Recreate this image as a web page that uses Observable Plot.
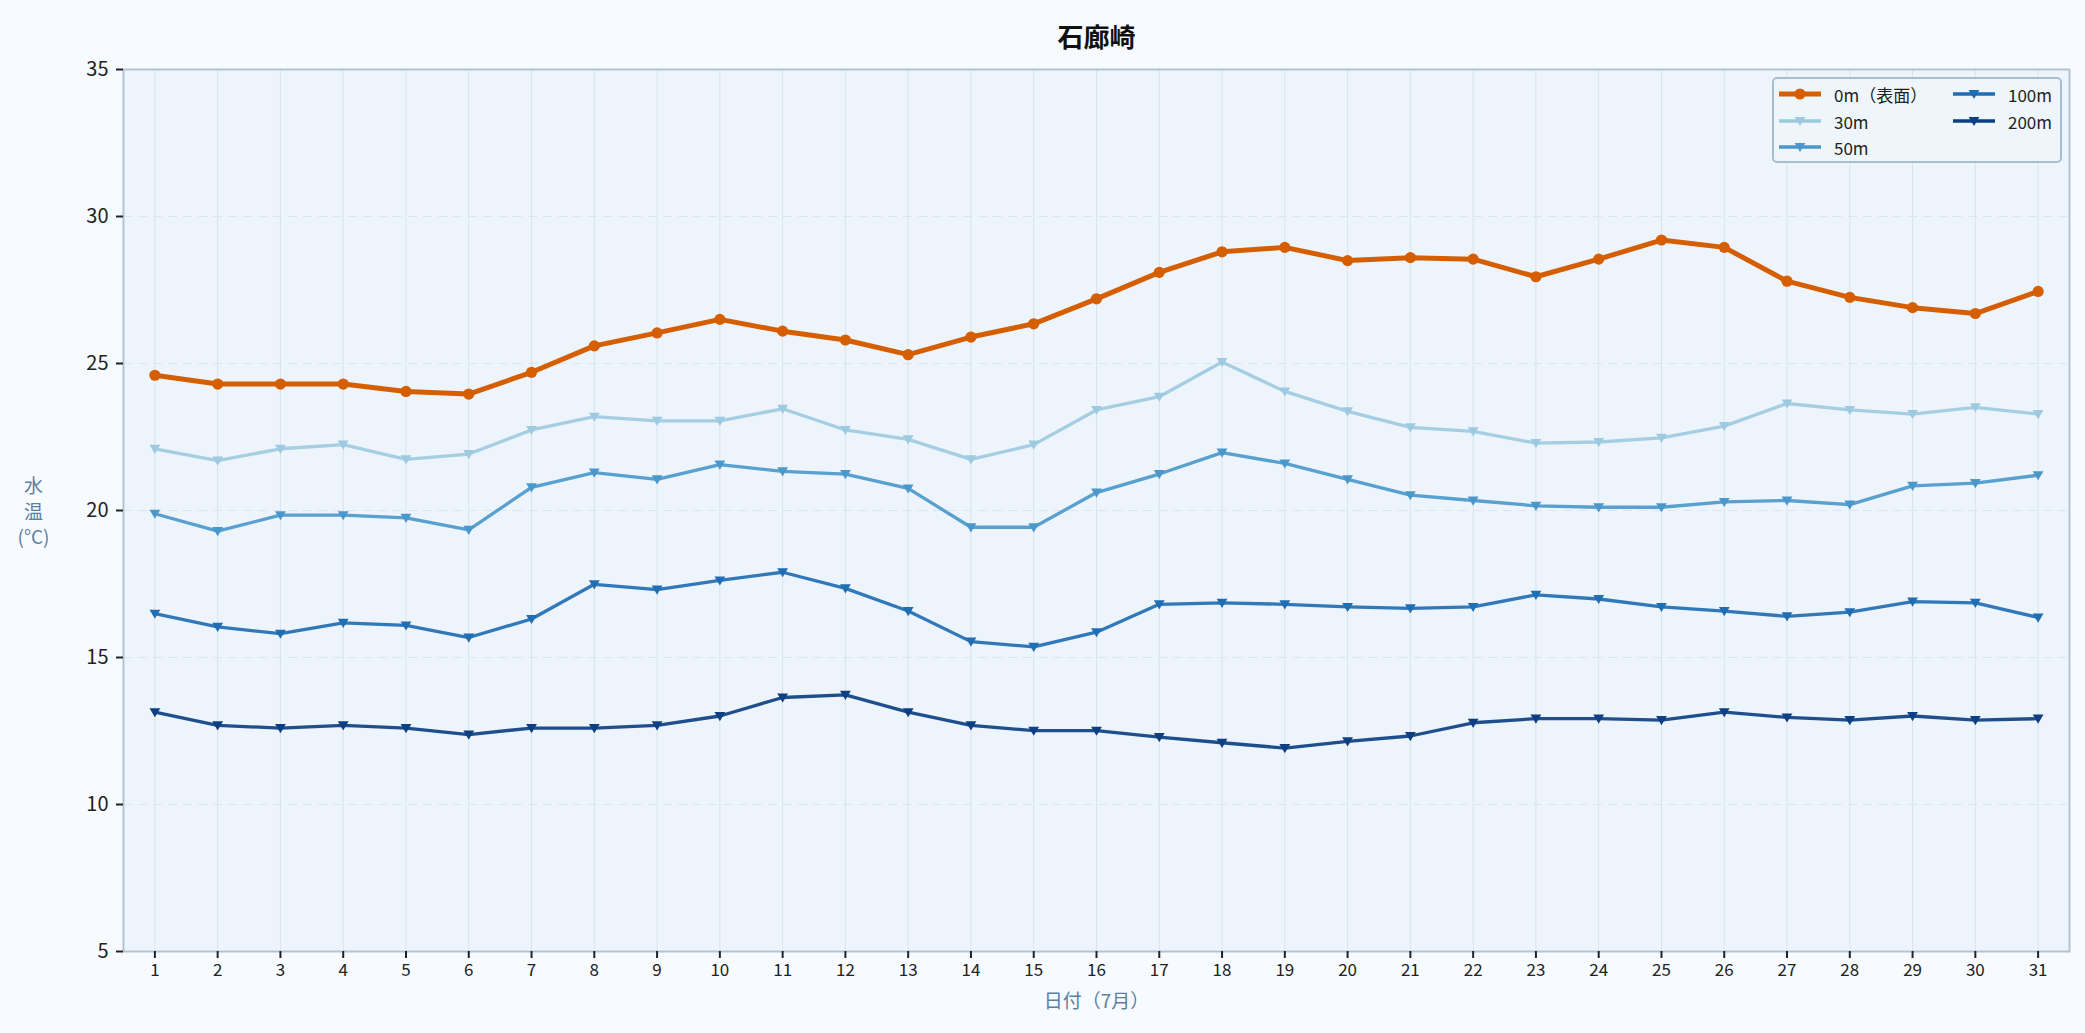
<!DOCTYPE html>
<html>
<head>
<meta charset="utf-8">
<script src="https://cdn.jsdelivr.net/npm/d3@7"></script>
<script src="https://cdn.jsdelivr.net/npm/@observablehq/plot@0.6"></script>
<style>
  html, body { margin: 0; padding: 0; background: #f7fbff; }
  body { width: 2085px; height: 1033px; position: relative; overflow: hidden;
         font-family: "Noto Sans CJK JP", "Noto Sans", sans-serif; }
  #chart { position: absolute; left: 0; top: 0; }
  #legend { position: absolute; left: 1772px; top: 77px; width: 286px; height: 82px;
            border: 2px solid #aabdd0; border-radius: 5px; background: rgba(239,245,251,0.92); }
  .item { position: absolute; display: flex; align-items: center; font-size: 17px; color: #222; }
  .item svg { margin-right: 12px; }
</style>
</head>
<body>
<div id="chart"></div>
<div id="legend"></div>
<script>
const days = d3.range(1, 32);
const seriesNames = ["0m（表面）", "30m", "50m", "100m", "200m"];
const seriesColors = ["#d55e00", "#9ecae1", "#4a98cb", "#1f6db3", "#0d3f82"];
const yTicks = [5, 10, 15, 20, 25, 30, 35];

const t0 = [24.6, 24.3, 24.3, 24.3, 24.05, 23.96, 24.7, 25.6, 26.04, 26.5, 26.1, 25.8, 25.3, 25.9, 26.35, 27.2, 28.1, 28.8, 28.95, 28.5, 28.6, 28.55, 27.95, 28.55, 29.2, 28.95, 27.8, 27.25, 26.9, 26.7, 27.45];
const t30 = [22.1, 21.7, 22.1, 22.24, 21.74, 21.92, 22.74, 23.19, 23.05, 23.05, 23.46, 22.74, 22.42, 21.74, 22.24, 23.42, 23.87, 25.05, 24.05, 23.37, 22.83, 22.69, 22.29, 22.33, 22.47, 22.87, 23.64, 23.42, 23.28, 23.51, 23.28];
const t50 = [19.89, 19.3, 19.84, 19.84, 19.75, 19.34, 20.79, 21.29, 21.06, 21.56, 21.33, 21.24, 20.75, 19.43, 19.43, 20.61, 21.24, 21.97, 21.6, 21.06, 20.52, 20.34, 20.16, 20.11, 20.11, 20.29, 20.34, 20.2, 20.84, 20.93, 21.2];
const t100 = [16.49, 16.04, 15.81, 16.18, 16.09, 15.68, 16.31, 17.49, 17.31, 17.62, 17.9, 17.35, 16.58, 15.54, 15.36, 15.86, 16.81, 16.86, 16.81, 16.72, 16.67, 16.72, 17.13, 16.99, 16.72, 16.58, 16.4, 16.54, 16.9, 16.86, 16.36];
const t200 = [13.14, 12.69, 12.6, 12.69, 12.6, 12.38, 12.6, 12.6, 12.69, 13.01, 13.64, 13.73, 13.14, 12.69, 12.51, 12.51, 12.29, 12.1, 11.92, 12.15, 12.33, 12.78, 12.92, 12.92, 12.87, 13.14, 12.96, 12.87, 13.01, 12.87, 12.92];

const seriesValues = [t0, t30, t50, t100, t200];
const rows = seriesValues.flatMap((vals, i) =>
  vals.map((v, j) => ({day: days[j], temp: v, series: seriesNames[i]})));

const triangleDown = {
  draw(ctx, size) {
    const s = Math.sqrt(size / Math.PI);
    ctx.moveTo(-s, -s * 0.75);
    ctx.lineTo(s, -s * 0.75);
    ctx.lineTo(0, s * 0.95);
    ctx.closePath();
  }
};

const marks = [
  Plot.frame({fill: "#eef4fb", stroke: null}),
  Plot.ruleX(days, {stroke: "#d9e3ee", strokeWidth: 1}),
  Plot.ruleY([10, 15, 20, 25, 30], {stroke: "#dce5ef", strokeWidth: 1.2, strokeDasharray: "9,6"}),
];
for (let i = seriesNames.length - 1; i >= 0; i--) {
  const data = rows.filter(d => d.series === seriesNames[i]);
  const isSurface = i === 0;
  marks.push(Plot.line(data, {x: "day", y: "temp", stroke: seriesColors[i],
    strokeWidth: isSurface ? 5 : 3.3, strokeOpacity: isSurface ? 1 : 0.92}));
  marks.push(Plot.dot(data, {x: "day", y: "temp", fill: seriesColors[i], stroke: "none",
    r: isSurface ? 5.6 : 5.4, symbol: isSurface ? "circle" : triangleDown}));
}
marks.push(
  Plot.frame({stroke: "#b2c4d4", strokeWidth: 2}),
  Plot.axisY({ticks: yTicks, tickSize: 7, tickPadding: 8, fontSize: 20, stroke: "#222", strokeWidth: 2, color: "#222", label: null}),
  Plot.axisX({ticks: days, tickFormat: d => String(d), tickSize: 7, tickPadding: 5, fontSize: 17, stroke: "#222", strokeWidth: 2, color: "#222", label: null}),
  Plot.text(["石廊崎"], {frameAnchor: "top", dy: -41, fontSize: 26, fontWeight: "bold", fill: "#111"}),
  Plot.text(["日付（7月）"], {frameAnchor: "bottom", dy: 56, fontSize: 19, fill: "#5b80a0"}),
  Plot.text(["水\n温\n(°C)"], {frameAnchor: "left", dx: -90, textAnchor: "middle", fontSize: 19, lineHeight: 1.35, fill: "#5b80a0"})
);

const chart = Plot.plot({
  width: 2085,
  height: 1033,
  marginTop: 69,
  marginLeft: 123,
  marginRight: 16,
  marginBottom: 82,
  style: {background: "transparent", fontFamily: "'Noto Sans CJK JP', 'Noto Sans', sans-serif", overflow: "visible"},
  x: {type: "linear", domain: [0.5, 31.5]},
  y: {domain: [5, 35]},
  marks
});
document.getElementById("chart").appendChild(chart);

const legend = document.getElementById("legend");
const pos = [
  {x: 4, y: 15}, {x: 4, y: 42}, {x: 4, y: 68},
  {x: 178, y: 15}, {x: 178, y: 42}
];
seriesNames.forEach((name, i) => {
  const item = document.createElement("div");
  item.className = "item";
  item.style.left = pos[i].x + "px";
  item.style.top = (pos[i].y - 12) + "px";
  item.style.height = "24px";
  const svg = d3.create("svg").attr("width", 44).attr("height", 16);
  svg.append("line").attr("x1", 1).attr("x2", 43).attr("y1", 8).attr("y2", 8)
    .attr("stroke", seriesColors[i]).attr("stroke-width", i === 0 ? 5 : 3.3);
  if (i === 0) {
    svg.append("circle").attr("cx", 22).attr("cy", 8).attr("r", 5.6).attr("fill", seriesColors[i]);
  } else {
    svg.append("path").attr("d", "M16.6,4 L27.4,4 L22,13 Z").attr("fill", seriesColors[i]);
  }
  item.appendChild(svg.node());
  const span = document.createElement("span");
  span.textContent = name;
  item.appendChild(span);
  legend.appendChild(item);
});
</script>
</body>
</html>
